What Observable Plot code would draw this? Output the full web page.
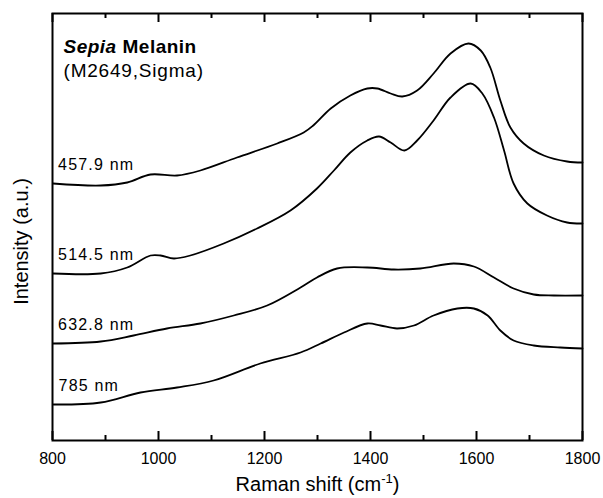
<!DOCTYPE html>
<html>
<head>
<meta charset="utf-8">
<script src="https://cdn.jsdelivr.net/npm/d3@7"></script>
<script src="https://cdn.jsdelivr.net/npm/@observablehq/plot@0.6"></script>
<style>
  html, body { margin: 0; padding: 0; background: #fff; }
  #chart svg { display: block; font-family: "Liberation Sans", Arial, sans-serif; }
</style>
</head>
<body>
<div id="chart"></div>
<script>
// Raman shift (cm^-1) and intensity (a.u.)
const shift4579 = [801, 891, 941, 985, 1035, 1079, 1148, 1224, 1274, 1292, 1325, 1362, 1394, 1413, 1438, 1460, 1488, 1519, 1551, 1585, 1608, 1626, 1645, 1664, 1689, 1727, 1771, 1800];
const int4579   = [257, 255, 258, 266, 265, 270, 283, 297, 308, 315, 332, 345, 352, 352, 347, 344, 350, 367, 387, 397, 390, 373, 340, 313, 297, 285, 279, 278];

const shift5145 = [801, 891, 941, 985, 1004, 1029, 1060, 1123, 1186, 1249, 1299, 1331, 1362, 1394, 1416, 1438, 1464, 1488, 1519, 1551, 1589, 1611, 1633, 1652, 1670, 1696, 1733, 1771, 1800];
const int5145   = [167, 167, 173, 185, 185, 182, 185, 197, 212, 230, 252, 270, 288, 300, 304, 298, 290, 300, 320, 343, 357, 347, 323, 290, 257, 237, 225, 218, 217];

const shift6328 = [801, 891, 953, 1016, 1079, 1142, 1205, 1268, 1299, 1337, 1394, 1444, 1494, 1557, 1595, 1633, 1670, 1708, 1746, 1800];
const int6328   = [97, 99, 105, 112, 117, 125, 135, 153, 163, 172, 173, 171, 172, 177, 174, 163, 152, 146, 145, 145];

const shift785  = [802, 891, 966, 1035, 1104, 1192, 1268, 1306, 1350, 1394, 1419, 1450, 1482, 1519, 1564, 1595, 1621, 1645, 1670, 1708, 1758, 1800];
const int785    = [36, 38, 48, 53, 60, 77, 88, 97, 108, 117, 115, 112, 115, 125, 132, 132, 125, 110, 100, 95, 93, 92];

const seriesLabels = ["457.9 nm", "514.5 nm", "632.8 nm", "785 nm"];
const majorTicks = [800, 1000, 1200, 1400, 1600, 1800];
const minorTicks = [900, 1100, 1300, 1500, 1700];
const titleLine1 = "Sepia Melanin";
const titleLine2 = "(M2649,Sigma)";
const xTitle = "Raman shift (cm-1)";
const yTitle = "Intensity (a.u.)";

const series = [
  [shift4579, int4579],
  [shift5145, int5145],
  [shift6328, int6328],
  [shift785, int785]
];
const data = series.flatMap(([xs, ys], k) => xs.map((x, i) => ({x, y: ys[i], label: seriesLabels[k]})));
const starts = series.map(([xs, ys], k) => ({x: xs[0], y: ys[0], label: seriesLabels[k]}));

const W = 603, H = 498, mL = 52, mR = 21, mT = 13, mB = 58;
const innerH = H - mT - mB;
const yMax = innerH; // intensity units chosen so 1 a.u. = 1 px
const majorLen = 9, minorLen = 5;

const tickStyle = {stroke: "black", strokeWidth: 2};

const chart = Plot.plot({
  width: W,
  height: H,
  marginLeft: mL,
  marginRight: mR,
  marginTop: mT,
  marginBottom: mB,
  style: {fontFamily: '"Liberation Sans", Arial, sans-serif', color: "black", background: "white"},
  x: {domain: [800, 1800], axis: null},
  y: {domain: [0, yMax], axis: null},
  marks: [
    Plot.axisX({anchor: "bottom", ticks: majorTicks, tickSize: 0, tickPadding: 12, fontSize: 16, label: null, tickFormat: d => String(d)}),
    Plot.line(data, {x: "x", y: "y", z: "label", curve: "catmull-rom", stroke: "black", strokeWidth: 1.8}),
    Plot.text(starts, {x: "x", y: "y", text: "label", textAnchor: "start", dx: 5, dy: -19, fontSize: 16, fill: "black"}),
    Plot.text([titleLine1], {frameAnchor: "top-left", dx: 11, dy: 25.5, lineAnchor: "top", textAnchor: "start", fontSize: 19, fontWeight: "bold", fill: "black"}),
    Plot.text([titleLine2], {frameAnchor: "top-left", dx: 11, dy: 49.5, lineAnchor: "top", textAnchor: "start", fontSize: 19, fill: "black"}),
    Plot.text([xTitle], {frameAnchor: "bottom", textAnchor: "middle", dy: 50.5, fontSize: 20, fill: "black"}),
    Plot.text([yTitle], {frameAnchor: "left", textAnchor: "middle", rotate: -90, dx: -31, dy: 14.5, fontSize: 20, fill: "black"}),
    Plot.frame({stroke: "black", strokeWidth: 2}),
    // inward ticks on bottom and top edges, drawn last
    Plot.ruleX(majorTicks, {x: d => d, y1: 0, y2: majorLen, ...tickStyle}),
    Plot.ruleX(minorTicks, {x: d => d, y1: 0, y2: minorLen, ...tickStyle}),
    Plot.ruleX(majorTicks, {x: d => d, y1: yMax - majorLen, y2: yMax, ...tickStyle}),
    Plot.ruleX(minorTicks, {x: d => d, y1: yMax - minorLen, y2: yMax, ...tickStyle})
  ]
});

document.getElementById("chart").appendChild(chart);

const svg = d3.select(chart);
const byText = s => svg.selectAll("text").filter(function () { return this.textContent === s; });
seriesLabels.forEach(s => byText(s).style("letter-spacing", "1.2px"));
byText(titleLine2).style("letter-spacing", "0.8px");
byText(titleLine1).each(function () {
  const t = d3.select(this);
  const [a, b] = titleLine1.split(" ");
  t.text(null).style("letter-spacing", "0.5px");
  t.append("tspan").attr("font-style", "italic").text(a);
  t.append("tspan").text(" " + b);
});
byText(xTitle).each(function () {
  const t = d3.select(this);
  t.text(null);
  t.append("tspan").text("Raman shift (cm");
  t.append("tspan").attr("dy", -8).attr("font-size", 13).text("-1");
  t.append("tspan").attr("dy", 8).text(")");
});
</script>
</body>
</html>
